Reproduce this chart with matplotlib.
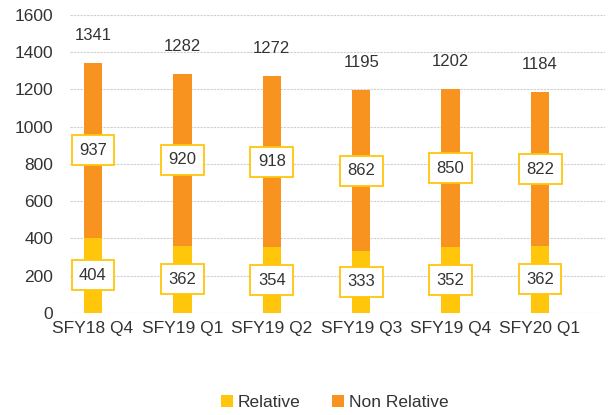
import numpy as np
import matplotlib
matplotlib.use("Agg")
import matplotlib.pyplot as plt

# quarters and counts
quarters = ["SFY18 Q4", "SFY19 Q1", "SFY19 Q2", "SFY19 Q3", "SFY19 Q4", "SFY20 Q1"]
relative = [404, 362, 354, 333, 352, 362]
non_relative = [937, 920, 918, 862, 850, 822]
y_ticks = [0, 200, 400, 600, 800, 1000, 1200, 1400, 1600]

yellow = "#FFC60B"
orange = "#F7931E"

plt.rcParams["font.family"] = ["Liberation Sans", "DejaVu Sans"]

fig = plt.figure(figsize=(6.11, 4.15), dpi=100)
ax = fig.add_axes([0.1146, 0.2458, 0.8756, 0.7181])

x = np.arange(len(quarters))
rel = np.array(relative)
non = np.array(non_relative)
total = rel + non

ax.bar(x, rel, width=0.205, color=yellow, label="Relative", zorder=2)
ax.bar(x, non, width=0.205, bottom=rel, color=orange, label="Non Relative", zorder=2)

box = dict(boxstyle="square,pad=0.45", facecolor="white", edgecolor=yellow, linewidth=1.3)
for i in range(len(x)):
    ax.text(x[i], rel[i] / 2, str(rel[i]), ha="center", va="center",
            fontsize=12, color="#333333", bbox=box, zorder=3)
    ax.text(x[i], rel[i] + non[i] / 2, str(non[i]), ha="center", va="center",
            fontsize=12, color="#333333", bbox=box, zorder=3)
    ax.annotate(str(total[i]), xy=(x[i], total[i]), xytext=(0, 28),
                textcoords="offset pixels", ha="center", va="center",
                fontsize=12, color="#333333")

ax.set_xlim(-0.257, 5.727)
ax.set_ylim(0, 1600)
ax.set_yticks(y_ticks)
ax.set_xticks(x)
ax.set_xticklabels(quarters)
ax.tick_params(axis="both", length=0, labelsize=12.5, labelcolor="#333333")
ax.tick_params(axis="y", pad=12)
ax.tick_params(axis="x", pad=6)
for s in ax.spines.values():
    s.set_visible(False)
ax.yaxis.grid(True, color="#CFCFCF", linestyle=(0, (2, 1)), linewidth=0.8, zorder=0)
ax.set_axisbelow(True)

ax.legend(loc="center", bbox_to_anchor=(0.495, -0.3), ncol=2, frameon=False,
          fontsize=12.5, handlelength=0.7, handleheight=0.7, handletextpad=0.3,
          columnspacing=1.8, labelcolor="#333333")

fig.savefig("out.png", dpi=100)
